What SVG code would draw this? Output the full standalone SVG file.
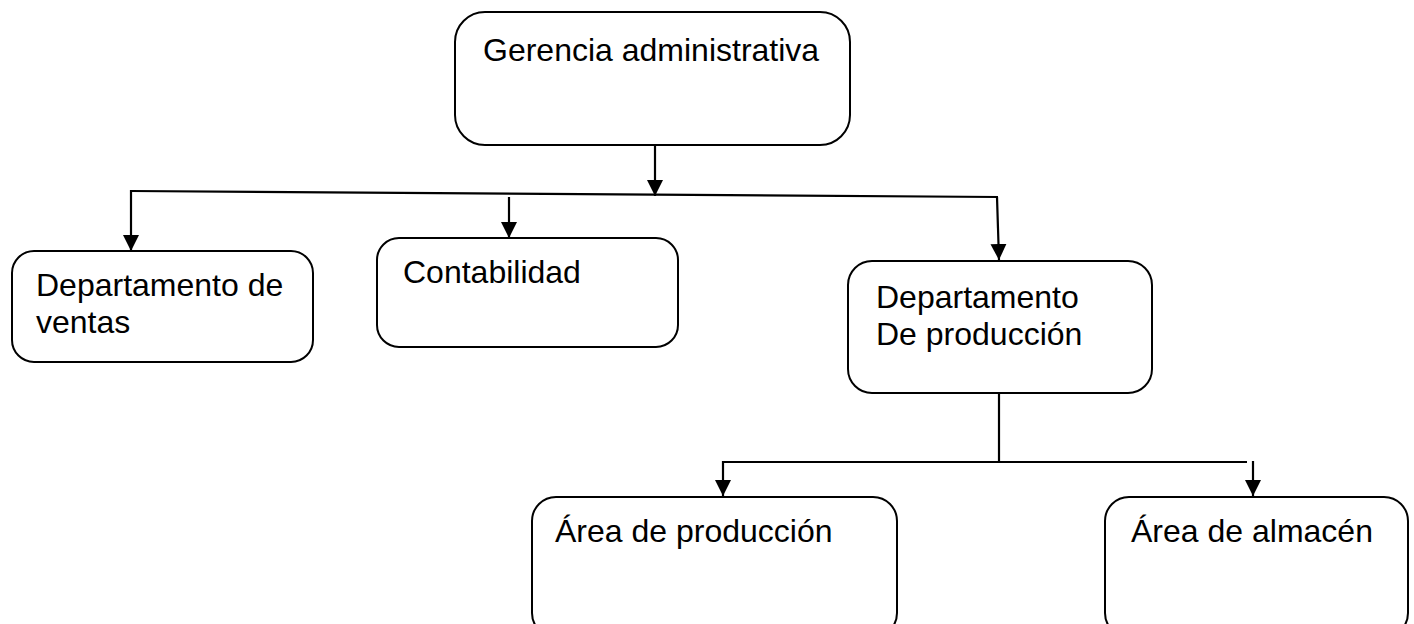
<svg xmlns="http://www.w3.org/2000/svg" width="1414" height="624" viewBox="0 0 1414 624">
<style>
.box{fill:#fff;stroke:#000;stroke-width:2}
.lbl{font-family:"Liberation Sans",Arial,sans-serif;font-size:32px;fill:#000}
.conn{fill:none;stroke:#000;stroke-width:2.2}
</style>
<defs>
<marker id="ah" viewBox="0 0 16 16" refX="16" refY="8" markerWidth="16" markerHeight="16" markerUnits="userSpaceOnUse" orient="auto">
<path d="M0,0 L16,8 L0,16 z" fill="#000"/>
</marker>
</defs>
<rect width="1414" height="624" fill="#fff"/>
<g id="connectors">
<line class="conn" x1="655" y1="145" x2="655" y2="196" marker-end="url(#ah)"/>
<line class="conn" x1="131" y1="191" x2="998" y2="197"/>
<line class="conn" x1="131" y1="190" x2="131" y2="251" marker-end="url(#ah)"/>
<line class="conn" x1="509" y1="197" x2="509" y2="238" marker-end="url(#ah)"/>
<line class="conn" x1="997" y1="197" x2="999" y2="260" marker-end="url(#ah)"/>
<line class="conn" x1="999" y1="393" x2="999" y2="462"/>
<line class="conn" x1="723" y1="462" x2="1247" y2="462"/>
<line class="conn" x1="723" y1="461" x2="723" y2="496" marker-end="url(#ah)"/>
<line class="conn" x1="1253" y1="461" x2="1253" y2="496" marker-end="url(#ah)"/>
</g>
<g id="gerencia">
<rect class="box" x="455" y="12" width="395" height="133" rx="30" ry="30"/>
<text class="lbl" x="483" y="61">Gerencia administrativa</text>
</g>
<g id="ventas">
<rect class="box" x="12" y="251" width="301" height="111" rx="22" ry="22"/>
<text class="lbl" x="36" y="296">Departamento de</text>
<text class="lbl" x="36" y="333">ventas</text>
</g>
<g id="contabilidad">
<rect class="box" x="377" y="238" width="301" height="109" rx="22" ry="22"/>
<text class="lbl" x="403" y="283">Contabilidad</text>
</g>
<g id="produccion">
<rect class="box" x="848" y="261" width="304" height="132" rx="24" ry="24"/>
<text class="lbl" x="876" y="308">Departamento</text>
<text class="lbl" x="876" y="345">De producción</text>
</g>
<g id="area-produccion">
<rect class="box" x="532" y="497" width="365" height="140" rx="24" ry="24"/>
<text class="lbl" x="555" y="542">Área de producción</text>
</g>
<g id="area-almacen">
<rect class="box" x="1105" y="497" width="303" height="140" rx="24" ry="24"/>
<text class="lbl" x="1131" y="542">Área de almacén</text>
</g>
</svg>
